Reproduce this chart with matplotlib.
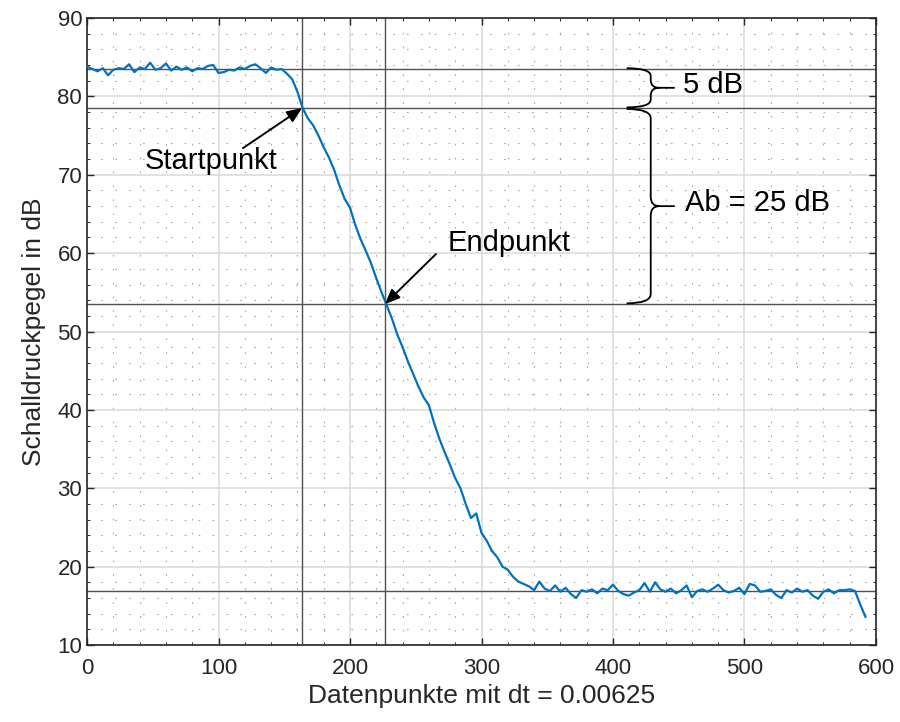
import numpy as np
import matplotlib
matplotlib.use("Agg")
import matplotlib.pyplot as plt
from matplotlib.path import Path
from matplotlib.patches import PathPatch

plt.rcParams['font.family'] = ['Liberation Sans', 'DejaVu Sans']

# ---- data ----
x_points = list(range(0, 593, 4))
spl_db = [
    83.8, 83.5, 83.2, 83.6, 82.7, 83.4, 83.6, 83.5, 84.1, 83.1,
    83.7, 83.5, 84.3, 83.4, 83.6, 84.2, 83.3, 83.8, 83.4, 83.7,
    83.2, 83.6, 83.5, 83.9, 84.0, 83.0, 83.1, 83.4, 83.3, 83.7,
    83.5, 83.9, 84.1, 83.6, 83.0, 83.7, 83.4, 83.5, 82.9, 82.2,
    80.6, 78.5, 77.2, 76.3, 75.0, 73.5, 72.2, 70.6, 68.6, 66.9,
    65.8, 63.6, 61.8, 60.3, 58.7, 56.8, 55.0, 53.3, 51.6, 49.6,
    48.0, 46.2, 44.6, 43.0, 41.6, 40.6, 38.3, 36.3, 34.6, 33.0,
    31.3, 30.0, 28.0, 26.2, 26.8, 24.3, 23.3, 22.0, 21.2, 20.0,
    19.6, 18.7, 18.1, 17.8, 17.5, 17.0, 18.1, 17.2, 16.9, 17.6,
    16.8, 17.3, 16.5, 16.0, 17.0, 16.8, 17.1, 16.6, 17.2, 17.0,
    17.7, 16.9, 16.5, 16.3, 16.7, 17.0, 17.9, 16.8, 18.0, 17.1,
    16.8, 17.2, 16.6, 17.0, 17.6, 16.1, 16.9, 17.1, 16.8, 17.2,
    17.7, 17.0, 16.7, 16.9, 17.3, 16.5, 17.8, 17.6, 16.8, 16.9,
    17.1, 16.4, 16.0, 17.0, 16.7, 17.2, 16.8, 17.0, 16.3, 15.9,
    16.8, 17.1, 16.6, 17.0, 17.0, 17.1, 16.9, 15.2, 13.6,
]
ref_levels = [83.5, 78.5, 53.5, 16.9]      # horizontal reference lines
ref_points = [163.5, 226.6]                # vertical reference lines (start, end)
x_ticks = [0, 100, 200, 300, 400, 500, 600]
y_ticks = [10, 20, 30, 40, 50, 60, 70, 80, 90]

fig = plt.figure(figsize=(9, 7.22), dpi=100)
ax = fig.add_axes([0.0967, 0.1066, 0.8766, 0.8684])

ax.set_xlim(0, 600)
ax.set_ylim(10, 90)
ax.set_xticks(x_ticks)
ax.set_yticks(y_ticks)
ax.set_xticks(np.arange(0, 601, 20), minor=True)
ax.set_yticks(np.arange(10, 91, 2), minor=True)

ax.grid(True, which='major', color='#d9d9d9', lw=1.1, zorder=0)
ax.grid(True, which='minor', color='#a8a8a8', lw=0.8, ls=(0, (1.5, 11)), zorder=0)
ax.set_axisbelow(True)

for y in ref_levels:
    ax.axhline(y, color='#505050', lw=1.0, zorder=2)
for x in ref_points:
    ax.axvline(x, color='#505050', lw=1.0, zorder=2)

ax.plot(x_points, spl_db, color='#0072BD', lw=1.6, zorder=3)

ax.tick_params(which='both', direction='in', top=True, right=True,
               colors='#262626', labelsize=16)
ax.tick_params(which='major', length=5, width=1.0)
ax.tick_params(which='minor', length=2.5, width=0.7)
ax.tick_params(axis='x', pad=9)
for s in ax.spines.values():
    s.set_color('#262626')
    s.set_linewidth(1.2)

ax.set_xlabel('Datenpunkte mit dt = 0.00625', fontsize=19, color='#262626', labelpad=4)
ax.set_ylabel('Schalldruckpegel in dB', fontsize=19, color='#262626', labelpad=8)


def brace(ax, x_arm, x_spine, x_tip, y_top, y_bot, r=1.0):
    ym = 0.5 * (y_top + y_bot)
    dx = x_spine - x_arm
    verts = [
        (x_arm, y_top), (x_spine, y_top), (x_spine, y_top - r),
        (x_spine, ym + r), (x_spine, ym), (x_spine + 0.35 * dx, ym),
        (x_tip, ym),
        (x_spine + 0.35 * dx, ym), (x_spine, ym), (x_spine, ym - r),
        (x_spine, y_bot + r), (x_spine, y_bot), (x_arm, y_bot),
    ]
    codes = [Path.MOVETO, Path.CURVE3, Path.CURVE3,
             Path.LINETO, Path.CURVE3, Path.CURVE3,
             Path.LINETO,
             Path.MOVETO, Path.CURVE3, Path.CURVE3,
             Path.LINETO, Path.CURVE3, Path.CURVE3]
    ax.add_patch(PathPatch(Path(verts, codes), fill=False, lw=1.3,
                           color='black', zorder=4, clip_on=False))


brace(ax, 410.4, 428.7, 447.0, 83.6, 78.6, r=1.0)
brace(ax, 410.4, 428.7, 447.0, 78.4, 53.6, r=1.2)

ax.text(453, 81.4, '5 dB', fontsize=21, va='center', ha='left', color='black')
ax.text(455, 66.4, 'Ab = 25 dB', fontsize=21, va='center', ha='left', color='black')

arrow = dict(arrowstyle='-|>,head_length=0.9,head_width=0.38', color='black',
             lw=1.4, shrinkA=0, shrinkB=0)
ax.annotate('', xy=(ref_points[0], ref_levels[1]), xytext=(118.6, 73.4),
            arrowprops=arrow, zorder=5)
ax.annotate('', xy=(ref_points[1], ref_levels[2]), xytext=(265.4, 59.9),
            arrowprops=arrow, zorder=5)
ax.text(44, 71.7, 'Startpunkt', fontsize=21, va='center', ha='left', color='black')
ax.text(274, 61.3, 'Endpunkt', fontsize=21, va='center', ha='left', color='black')

fig.savefig('out.png', dpi=100)
